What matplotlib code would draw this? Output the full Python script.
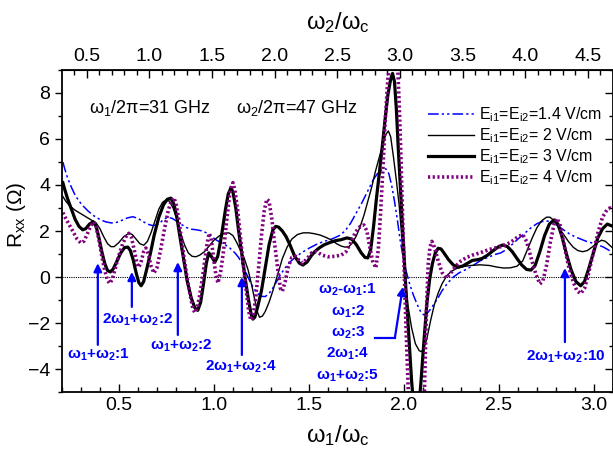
import matplotlib
matplotlib.use("Agg")
import matplotlib.pyplot as plt
from matplotlib.ticker import MultipleLocator

plt.rcParams['font.family'] = ['Liberation Sans', 'DejaVu Sans']
plt.rcParams['mathtext.fontset'] = 'custom'
plt.rcParams['mathtext.rm'] = 'Liberation Sans'
plt.rcParams['mathtext.default'] = 'regular'

# E = 1.4 V/cm
x_14 = [0.205, 0.215, 0.23, 0.25, 0.27, 0.29, 0.31, 0.34, 0.37, 0.40, 0.43, 0.46, 0.49, 0.52,
        0.545, 0.573, 0.60, 0.625, 0.65, 0.675, 0.695, 0.715, 0.735, 0.757, 0.78, 0.805, 0.83,
        0.855, 0.88, 0.91, 0.94, 0.96, 0.985, 1.01, 1.035, 1.06, 1.085, 1.11, 1.13, 1.15,
        1.168, 1.19, 1.21, 1.23, 1.25, 1.27, 1.29, 1.31, 1.33, 1.35, 1.375, 1.40, 1.43, 1.46,
        1.50, 1.54, 1.58, 1.62, 1.66, 1.69, 1.72, 1.75, 1.78, 1.81, 1.84, 1.865, 1.89, 1.905,
        1.92, 1.935, 1.95, 1.965, 1.98, 1.995, 2.01, 2.03, 2.05, 2.07, 2.09, 2.105, 2.12, 2.14,
        2.16, 2.18, 2.20, 2.23, 2.26, 2.29, 2.32, 2.36, 2.40, 2.44, 2.48, 2.51, 2.54, 2.57,
        2.60, 2.635, 2.67, 2.70, 2.73, 2.757, 2.785, 2.81, 2.84, 2.87, 2.90, 2.93, 2.96, 2.99,
        3.02, 3.05, 3.075, 3.1]
y_14 = [5.0, 4.7, 4.3, 3.9, 3.55, 3.3, 3.1, 2.85, 2.65, 2.5, 2.4, 2.35, 2.38, 2.48,
        2.57, 2.62, 2.55, 2.42, 2.3, 2.24, 2.25, 2.35, 2.5, 2.6, 2.55, 2.42, 2.28,
        2.15, 2.08, 2.05, 2.0, 1.92, 1.78, 1.62, 1.5, 1.4, 1.25, 1.05, 0.85, 0.55,
        0.2, -0.2, -0.5, -0.72, -0.84, -0.85, -0.72, -0.48, -0.2, 0.1, 0.4, 0.65, 0.87, 1.05,
        1.25, 1.42, 1.55, 1.65, 1.8, 2.0, 2.35, 2.8, 3.25, 3.75, 4.25, 4.55, 4.7, 4.7,
        4.5, 4.0, 3.3, 2.5, 1.6, 0.9, 0.3, -0.3, -0.8, -1.2, -1.55, -1.65, -1.6, -1.4,
        -1.15, -0.9, -0.6, -0.26, 0.0, 0.18, 0.3, 0.48, 0.7, 0.85, 0.98, 1.05, 1.2, 1.42,
        1.65, 1.9, 2.15, 2.32, 2.42, 2.43, 2.35, 2.22, 2.05, 1.88, 1.75, 1.65, 1.55, 1.48,
        1.4, 1.3, 1.18, 1.05]

# E = 2 V/cm
x_2 = [0.205, 0.22, 0.24, 0.27, 0.30, 0.33, 0.36, 0.38, 0.40, 0.42, 0.44, 0.458, 0.475, 0.50,
       0.525, 0.552, 0.57, 0.59, 0.61, 0.631, 0.65, 0.67, 0.69, 0.71, 0.73, 0.747, 0.765,
       0.785, 0.805, 0.825, 0.845, 0.865, 0.885, 0.905, 0.925, 0.95, 0.975, 1.0, 1.03, 1.055,
       1.079, 1.10, 1.12, 1.14, 1.16, 1.18, 1.20, 1.215, 1.23, 1.24, 1.255, 1.27, 1.29, 1.31,
       1.335, 1.36, 1.385, 1.41, 1.44, 1.47, 1.50, 1.53, 1.56, 1.59, 1.62, 1.645, 1.668,
       1.69, 1.71, 1.73, 1.75, 1.77, 1.79, 1.81, 1.83, 1.85, 1.87, 1.89, 1.905, 1.918, 1.93,
       1.945, 1.96, 1.975, 1.99, 2.005, 2.02, 2.04, 2.06, 2.08, 2.092, 2.105, 2.12, 2.14,
       2.16, 2.18, 2.20, 2.225, 2.25, 2.28, 2.31, 2.35, 2.40, 2.45, 2.49, 2.526, 2.56, 2.595,
       2.625, 2.65, 2.675, 2.70, 2.725, 2.75, 2.768, 2.79, 2.815, 2.84, 2.865, 2.89, 2.915,
       2.94, 2.965, 2.99, 3.015, 3.04, 3.06, 3.08, 3.1]
y_2 = [3.5, 3.3, 3.1, 2.9, 2.75, 2.6, 2.45, 2.35, 2.1, 1.75, 1.45, 1.32, 1.32, 1.5,
       1.75, 1.9, 1.85, 1.65, 1.45, 1.38, 1.55, 1.95, 2.45, 2.95, 3.25, 3.35, 3.3,
       3.0, 2.5, 1.9, 1.4, 1.05, 0.9, 0.88, 0.95, 1.1, 1.35, 1.6, 1.8, 1.9,
       1.92, 1.8, 1.5, 1.15, 0.8, 0.3, -0.4, -1.0, -1.55, -1.75, -1.7, -1.5, -1.1, -0.6,
       0.1, 0.8, 1.3, 1.65, 1.85, 1.92, 1.92, 1.88, 1.82, 1.72, 1.6, 1.45, 1.35,
       1.3, 1.32, 1.5, 1.8, 2.2, 2.7, 3.3, 3.9, 4.6, 5.2, 5.8, 6.2, 6.35, 6.1,
       5.2, 4.2, 3.1, 1.6, 0.0, -1.2, -2.2, -2.9, -3.2, -3.25, -3.1, -2.7, -1.9,
       -1.2, -0.7, -0.3, 0.05, 0.25, 0.38, 0.45, 0.5, 0.53, 0.5, 0.43, 0.39, 0.4, 0.47,
       0.7, 1.2, 1.7, 2.15, 2.45, 2.6, 2.6, 2.45, 2.15, 1.85, 1.55, 1.3, 1.15,
       1.1, 1.15, 1.3, 1.48, 1.6, 1.55, 1.4, 1.25]

# E = 3 V/cm
x_3 = [0.205, 0.215, 0.23, 0.25, 0.27, 0.29, 0.31, 0.325, 0.345, 0.365, 0.38, 0.395, 0.41,
       0.425, 0.44, 0.455, 0.47, 0.49, 0.51, 0.53, 0.547, 0.56, 0.575, 0.59, 0.605, 0.617,
       0.63, 0.645, 0.665, 0.685, 0.71, 0.735, 0.755, 0.773, 0.79, 0.805, 0.82, 0.84, 0.86,
       0.88, 0.90, 0.915, 0.93, 0.945, 0.96, 0.973, 0.99, 1.005, 1.02, 1.04, 1.06, 1.075,
       1.089, 1.10, 1.115, 1.13, 1.15, 1.165, 1.18, 1.195, 1.205, 1.215, 1.23, 1.25, 1.27,
       1.29, 1.31, 1.325, 1.34, 1.36, 1.38, 1.40, 1.425, 1.45, 1.468, 1.49, 1.51, 1.53, 1.555,
       1.58, 1.61, 1.64, 1.668, 1.70, 1.725, 1.75, 1.775, 1.795, 1.81, 1.825, 1.84, 1.855,
       1.87, 1.885, 1.90, 1.915, 1.93, 1.94, 1.95, 1.96, 1.97, 1.985, 2.0, 2.01, 2.025, 2.04,
       2.05, 2.08, 2.09, 2.105, 2.12, 2.135, 2.15, 2.165, 2.18, 2.195, 2.21, 2.235, 2.26,
       2.285, 2.31, 2.335, 2.36, 2.385, 2.41, 2.44, 2.47, 2.50, 2.52, 2.545, 2.57, 2.595,
       2.62, 2.645, 2.668, 2.69, 2.715, 2.74, 2.765, 2.79, 2.81, 2.83, 2.855, 2.88, 2.905,
       2.93, 2.95, 2.97, 2.995, 3.02, 3.045, 3.07, 3.1]
y_3 = [4.1, 3.8, 3.4, 2.95, 2.5, 2.2, 2.05, 2.1, 2.3, 2.4, 2.2, 1.7, 1.1,
       0.6, 0.28, 0.22, 0.35, 0.7, 1.05, 1.28, 1.3, 1.15, 0.75, 0.2, -0.25, -0.38,
       -0.2, 0.3, 1.0, 1.8, 2.6, 3.15, 3.38, 3.43, 3.15, 2.6, 1.8, 0.8, -0.2,
       -0.9, -1.35, -1.45, -1.1, -0.3, 0.6, 1.05, 0.85, 0.65, 0.9, 1.8, 2.9, 3.6,
       3.87, 3.7, 3.0, 2.0, 0.8, -0.1, -0.9, -1.6, -1.83, -1.75, -1.3, -0.6, 0.4,
       1.4, 2.05, 2.2, 2.17, 2.0, 1.75, 1.4, 0.9, 0.6, 0.52, 0.65, 0.9, 1.1, 1.27,
       1.4, 1.5, 1.58, 1.62, 1.7, 1.65, 1.4, 1.05, 0.85, 0.83, 1.2, 2.2, 3.4,
       4.5, 5.6, 6.8, 7.9, 8.6, 8.85, 8.5, 7.3, 5.6, 3.3, 1.0, -0.5, -2.5, -4.5,
       -5.5, -5.5, -4.5, -2.8, -1.2, -0.1, 0.6, 1.05, 1.25, 1.22, 1.05, 0.75, 0.52,
       0.43, 0.48, 0.6, 0.72, 0.75, 0.8, 0.95, 1.15, 1.33, 1.39, 1.32, 1.1, 0.8,
       0.52, 0.33, 0.3, 0.5, 1.1, 1.8, 2.3, 2.48, 2.3, 1.8, 1.0, 0.3, -0.2,
       -0.38, -0.2, 0.3, 1.0, 1.7, 2.1, 2.3, 2.2]

# E = 4 V/cm
x_4 = [0.205, 0.22, 0.24, 0.26, 0.28, 0.30, 0.315, 0.33, 0.35, 0.368, 0.38, 0.395, 0.41,
       0.425, 0.44, 0.452, 0.465, 0.48, 0.50, 0.52, 0.54, 0.552, 0.565, 0.58, 0.595, 0.605,
       0.618, 0.63, 0.642, 0.655, 0.668, 0.684, 0.70, 0.72, 0.74, 0.76, 0.775, 0.789, 0.80,
       0.815, 0.83, 0.845, 0.86, 0.875, 0.89, 0.90, 0.912, 0.925, 0.94, 0.955, 0.965, 0.975,
       0.985, 0.997, 1.01, 1.021, 1.035, 1.05, 1.065, 1.08, 1.09, 1.10, 1.11, 1.125, 1.14,
       1.155, 1.17, 1.183, 1.194, 1.205, 1.22, 1.235, 1.25, 1.265, 1.278, 1.29, 1.305, 1.32,
       1.335, 1.35, 1.36, 1.375, 1.39, 1.41, 1.43, 1.45, 1.468, 1.49, 1.515, 1.54, 1.57, 1.60,
       1.635, 1.67, 1.695, 1.72, 1.745, 1.77, 1.789, 1.805, 1.82, 1.835, 1.852, 1.865, 1.877,
       1.89, 1.90, 1.915, 1.93, 1.965, 1.975, 1.985, 1.995, 2.003, 2.012, 2.022, 2.03, 2.105,
       2.112, 2.12, 2.128, 2.137, 2.147, 2.16, 2.18, 2.20, 2.222, 2.245, 2.27, 2.30, 2.33,
       2.36, 2.40, 2.45, 2.51, 2.56, 2.60, 2.625, 2.645, 2.67, 2.695, 2.715, 2.73, 2.75, 2.77,
       2.79, 2.805, 2.82, 2.84, 2.865, 2.89, 2.91, 2.93, 2.95, 2.97, 2.995, 3.02, 3.045, 3.07,
       3.085, 3.1]
y_4 = [2.8, 2.55, 2.25, 1.95, 1.65, 1.48, 1.55, 1.8, 2.2, 2.4, 2.2, 1.6, 0.9,
       0.3, -0.15, -0.28, -0.1, 0.35, 0.95, 1.45, 1.8, 1.9, 1.75, 1.2, 0.6, 0.42,
       0.7, 1.1, 1.26, 1.0, 0.5, 0.17, 0.4, 1.2, 2.1, 2.9, 3.3, 3.45, 3.2,
       2.5, 1.6, 0.7, -0.1, -0.8, -1.4, -1.55, -1.35, -0.8, 0.0, 0.9, 1.5, 1.9,
       1.7, 0.9, 0.1, -0.26, 0.2, 1.1, 2.3, 3.4, 3.9, 4.1, 3.8, 2.9, 1.7,
       0.5, -0.6, -1.5, -1.87, -1.75, -0.9, 0.4, 1.8, 2.9, 3.38, 3.3, 2.5, 1.4,
       0.4, -0.5, -0.62, -0.2, 0.4, 0.85, 0.9, 0.7, 0.6, 0.8, 1.05, 1.1, 0.95, 0.88,
       0.9, 0.95, 1.1, 1.5, 1.95, 2.2, 2.26, 2.0, 1.3, 0.7, 0.39, 1.2, 2.8,
       4.8, 6.6, 8.6, 9.6, 9.6, 7.5, 5.0, 2.0, -0.2, -2.5, -4.8, -6.0, -6.0,
       -3.5, -1.0, 0.6, 1.3, 1.55, 1.3, 0.7, 0.2, -0.04, 0.15, 0.45, 0.7, 0.85,
       0.95, 1.05, 1.2, 1.32, 1.5, 1.75, 1.85, 1.55, 0.8, 0.1, -0.3, -0.2, 0.5, 1.5,
       2.3, 2.55, 2.3, 1.5, 0.5, -0.2, -0.6, -0.72, -0.5, 0.1, 1.0, 1.9, 2.6, 2.95,
       3.0, 2.9]

labels = ['E$_{i1}$=E$_{i2}$=1.4 V/cm', 'E$_{i1}$=E$_{i2}$= 2 V/cm',
          'E$_{i1}$=E$_{i2}$= 3 V/cm', 'E$_{i1}$=E$_{i2}$= 4 V/cm']

ratio = 47 / 31

fig = plt.figure(figsize=(6.13, 4.62), dpi=100)
ax = fig.add_axes([0.101, 0.1515, 0.899, 0.697])

ax.axhline(0, color='black', lw=0.8, ls=(0, (1, 1)))
ax.plot(x_14, y_14, color='blue', lw=1.1, ls=(0, (7, 2, 1.5, 2, 1.5, 2)), label=labels[0])
ax.plot(x_2, y_2, color='black', lw=1.0, label=labels[1])
ax.plot(x_3, y_3, color='black', lw=2.3, label=labels[2])
ax.plot(x_4, y_4, color='#800080', lw=2.6, ls=(0, (0.6, 0.7)), label=labels[3])

ax.set_xlim(0.2, 3.1)
ax.set_ylim(-5, 9)
ax.xaxis.set_major_locator(MultipleLocator(0.5))
ax.xaxis.set_minor_locator(MultipleLocator(0.1))
ax.yaxis.set_major_locator(MultipleLocator(2))
ax.yaxis.set_minor_locator(MultipleLocator(1))
ax.tick_params(axis='x', which='both', direction='in', top=False, labelsize=14)
ax.tick_params(axis='x', which='major', length=6, width=1)
ax.tick_params(axis='x', which='minor', length=3.5, width=1)
ax.tick_params(axis='y', which='both', direction='out', right=False, labelsize=14)
ax.tick_params(axis='y', which='major', length=5, width=1)
ax.tick_params(axis='y', which='minor', length=3, width=1)
for s in ax.spines.values():
    s.set_linewidth(1.3)

secx = ax.secondary_xaxis('top', functions=(lambda x: x * ratio, lambda x: x / ratio))
secx.set_xticks([0.5, 1.0, 1.5, 2.0, 2.5, 3.0, 3.5, 4.0, 4.5])
secx.xaxis.set_minor_locator(MultipleLocator(0.1))
secx.tick_params(which='both', direction='in', labelsize=14)
secx.tick_params(which='major', length=6, width=1)
secx.tick_params(which='minor', length=3.5, width=1)
secx.set_xlabel('ω$_2$/ω$_c$', fontsize=17, labelpad=14)

secy = ax.secondary_yaxis('right', functions=(lambda y: y, lambda y: y))
secy.yaxis.set_major_locator(MultipleLocator(2))
secy.yaxis.set_minor_locator(MultipleLocator(1))
secy.tick_params(which='both', direction='in', labelright=False)
secy.tick_params(which='major', length=6, width=1)
secy.tick_params(which='minor', length=3, width=1)

ax.set_xlabel('ω$_1$/ω$_c$', fontsize=17, labelpad=7)
ax.set_ylabel('R$_{xx}$ (Ω)', fontsize=15)
ax.yaxis.set_label_coords(-0.062, 0.55)

ax.text(0.342, 7.35, 'ω$_1$/2π=31 GHz', fontsize=13, va='center')
ax.text(1.115, 7.35, 'ω$_2$/2π=47 GHz', fontsize=13, va='center')

ax.legend(loc='upper left', bbox_to_anchor=(0.664, 0.89), frameon=False, fontsize=11.5,
          handlelength=2.9, handletextpad=0.3, labelspacing=0.15, borderpad=0, borderaxespad=0)

# resonance annotations
arrow = dict(arrowstyle='-|>', color='blue', lw=1.6, mutation_scale=12, shrinkA=0, shrinkB=0)
notes = [
    ('ω$_1$+ω$_2$:1', 0.394, -3.4, 0.389, -2.95, 0.6),
    ('2ω$_1$+ω$_2$:2', 0.598, -1.87, 0.568, -1.3, 0.22),
    ('ω$_1$+ω$_2$:2', 0.826, -3.0, 0.81, -2.52, 0.65),
    ('2ω$_1$+ω$_2$:4', 1.142, -3.91, 1.147, -3.39, 0.0),
    ('2ω$_1$+ω$_2$:10', 2.852, -3.48, 2.847, -2.83, 0.39),
]
for txt, tx, ty, axx, y0, y1 in notes:
    ax.annotate('', xy=(axx, y1), xytext=(axx, y0), arrowprops=arrow)
    ax.text(tx, ty, txt, color='blue', fontsize=11, fontweight='bold', ha='center', va='center')

ax.plot([1.847, 1.952], [-2.65, -2.65], color='blue', lw=1.6)
ax.annotate('', xy=(1.994, -0.43), xytext=(1.952, -2.65), arrowprops=arrow)
multi = ['ω$_2$-ω$_1$:1', 'ω$_1$:2', 'ω$_2$:3', '2ω$_1$:4', 'ω$_1$+ω$_2$:5']
multi_y = [-0.57, -1.52, -2.43, -3.35, -4.3]
for txt, ty in zip(multi, multi_y):
    ax.text(1.705, ty, txt, color='blue', fontsize=11, fontweight='bold', ha='center', va='center')

fig.savefig('out.png', dpi=100)
